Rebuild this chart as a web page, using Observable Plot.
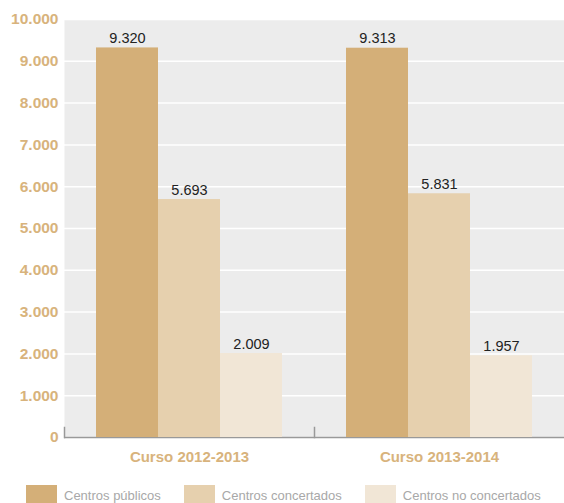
<!DOCTYPE html>
<html>
<head>
<meta charset="utf-8">
<script src="https://cdn.jsdelivr.net/npm/d3@7"></script>
<script src="https://cdn.jsdelivr.net/npm/@observablehq/plot@0.6"></script>
<style>
  html, body { margin: 0; padding: 0; background: #fff; width: 564px; height: 503px; overflow: hidden; }
  #chart svg { display: block; }
  .legend { display: flex; gap: 23px; padding-left: 26px; margin-top: 8px; font-family: "Liberation Sans", sans-serif; font-size: 13px; color: #a8a8a8; white-space: nowrap; }
  .legend .item { display: flex; align-items: flex-start; gap: 7px; }
  .legend .sw { width: 31px; height: 20px; }
  .legend .lb { line-height: 16px; margin-top: 3px; }
</style>
</head>
<body>
<div id="chart"></div>
<script>
const courses = ["Curso 2012-2013", "Curso 2013-2014"];
const series = ["Centros públicos", "Centros concertados", "Centros no concertados"];
const values2012 = [9320, 5693, 2009];
const values2013 = [9313, 5831, 1957];
const colors = ["#d4af78", "#e6d0ae", "#f1e6d6"];
const yTicks = [0, 1000, 2000, 3000, 4000, 5000, 6000, 7000, 8000, 9000, 10000];

const allValues = [values2012, values2013];
const data = [];
courses.forEach((c, i) => series.forEach((s, j) => data.push({course: c, series: s, value: allValues[i][j]})));

const fmt = d3.formatLocale({decimal: ",", thousands: ".", grouping: [3], currency: ["", "€"]}).format(",");

const plot = Plot.plot({
  width: 564,
  height: 477,
  marginTop: 19,
  marginBottom: 40,
  marginLeft: 63,
  marginRight: 0,
  style: {fontFamily: "Liberation Sans, sans-serif", background: "#fff"},
  fx: {domain: courses, padding: 0, label: null, axis: null},
  x: {domain: series, paddingInner: 0, paddingOuter: 0.5, axis: null},
  y: {domain: [0, 10000], label: null},
  color: {domain: series, range: colors},
  marks: [
    Plot.frame({fill: "#ececec", insetRight: -1}),
    Plot.gridY(yTicks, {stroke: "#fff", strokeOpacity: 1, strokeWidth: 1.5}),
    Plot.ruleY([0], {stroke: "#999", strokeWidth: 1.5}),
    Plot.frame({anchor: "left", stroke: "#999", strokeWidth: 1.5, insetTop: 408}),
    Plot.barY(data, {fx: "course", x: "series", y: "value", fill: "series"}),
    Plot.text(data, {fx: "course", x: "series", y: "value", text: d => fmt(d.value), lineAnchor: "bottom", dy: -5, fontSize: 14.5, fill: "#222"}),
    Plot.axisY(yTicks, {tickSize: 0, tickPadding: 6, tickFormat: fmt, fontSize: 15.5, fontWeight: "bold", fill: "#d8b37c", label: null}),
    Plot.axisFx({anchor: "bottom", tickSize: 0, tickPadding: 14, fontSize: 15, fontWeight: "bold", fill: "#d8b37c", label: null})
  ]
});
document.getElementById("chart").appendChild(plot);

const legend = document.createElement("div");
legend.className = "legend";
series.forEach((s, i) => {
  const item = document.createElement("div");
  item.className = "item";
  const sw = document.createElement("div");
  sw.className = "sw";
  sw.style.background = colors[i];
  const lb = document.createElement("span");
  lb.className = "lb";
  lb.textContent = s;
  item.appendChild(sw);
  item.appendChild(lb);
  legend.appendChild(item);
});
document.getElementById("chart").appendChild(legend);
</script>
</body>
</html>
